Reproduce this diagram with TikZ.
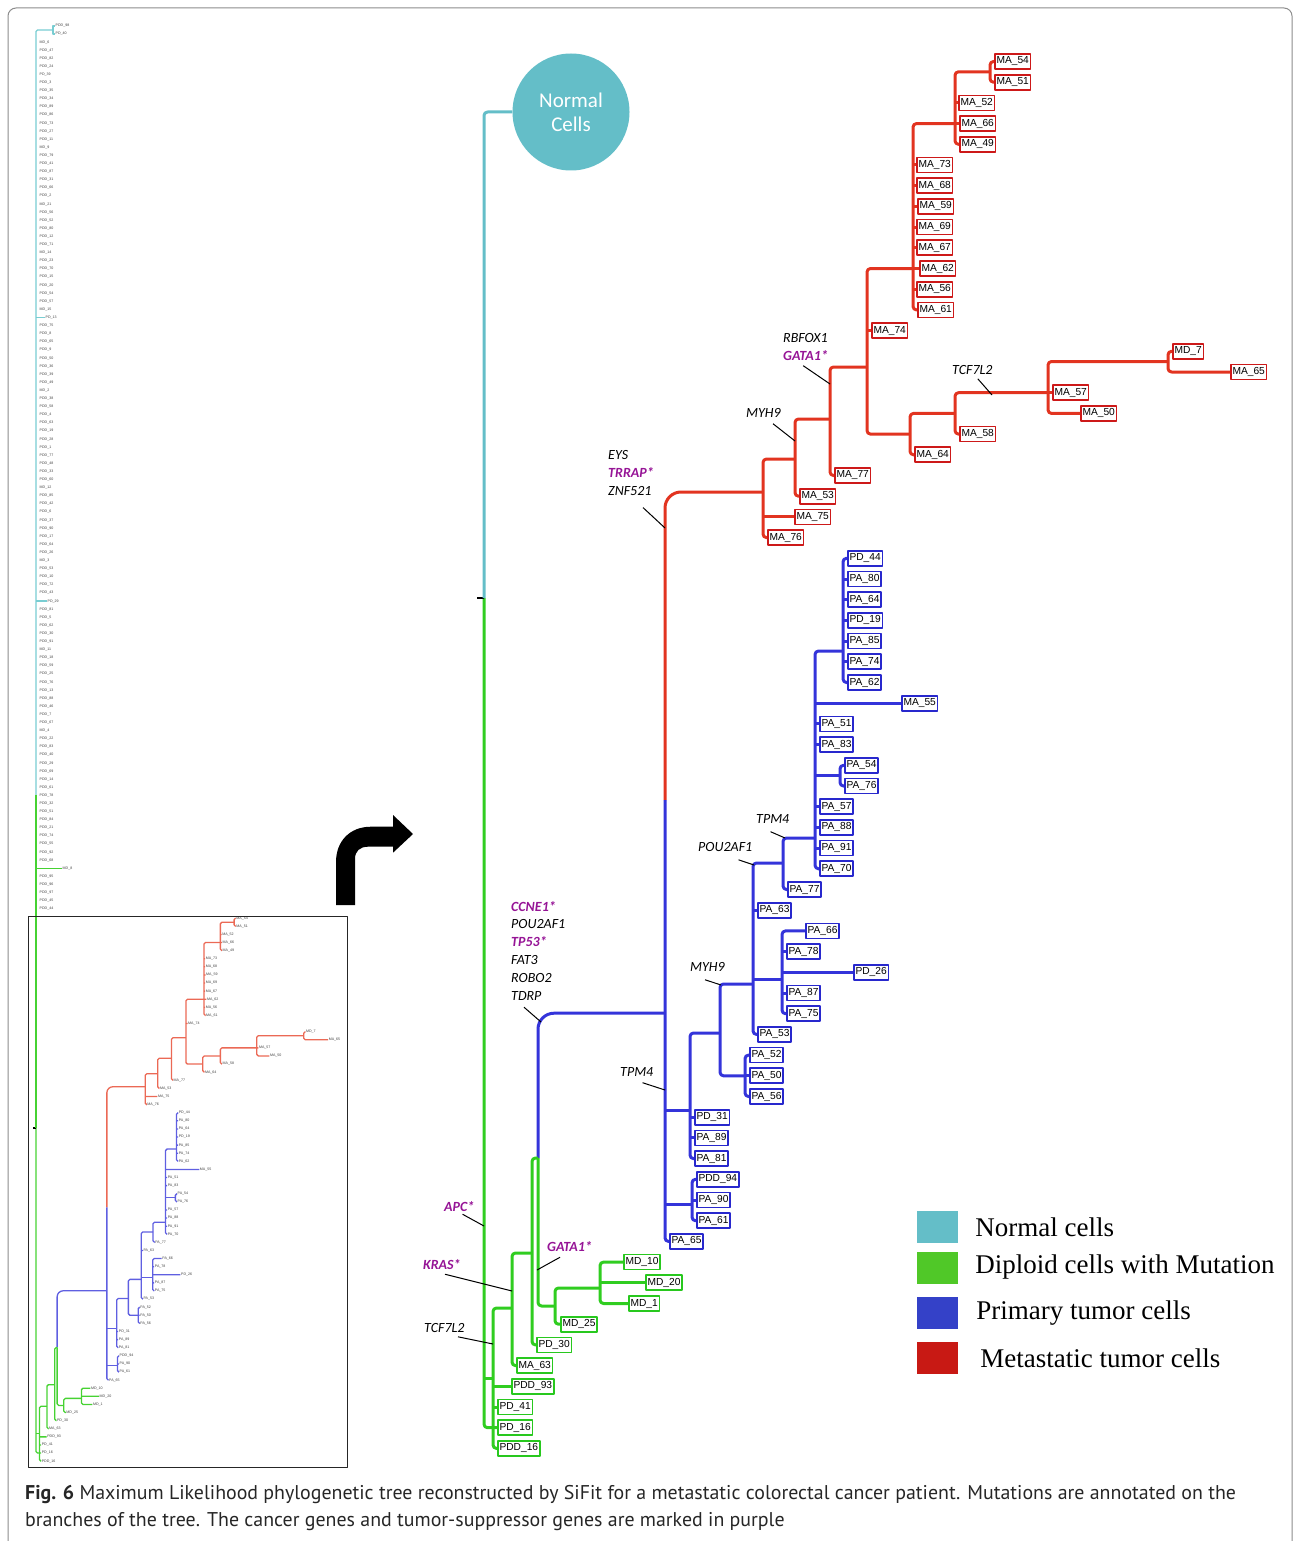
\documentclass[tikz,border=0pt]{standalone}
\usepackage{fontspec}
\setmainfont{Liberation Serif}
\newfontfamily\leaffont{Liberation Sans}
\newfontfamily\genefont{Carlito}
\newfontfamily\capfont{PT Sans}
\usetikzlibrary{positioning}

\definecolor{brred}{RGB}{226,52,32}
\definecolor{boxred}{RGB}{205,25,25}
\definecolor{brblue}{RGB}{52,52,218}
\definecolor{boxblue}{RGB}{40,40,205}
\definecolor{brgreen}{RGB}{48,205,32}
\definecolor{boxgreen}{RGB}{40,200,30}
\definecolor{brcyan}{RGB}{100,190,200}
\definecolor{thred}{RGB}{235,105,85}
\definecolor{thblue}{RGB}{95,95,225}
\definecolor{thgreen}{RGB}{70,210,50}
\definecolor{thcyan}{RGB}{120,205,210}
\definecolor{genepurple}{RGB}{150,20,150}
\definecolor{legcyan}{RGB}{100,190,200}
\definecolor{leggreen}{RGB}{80,200,40}
\definecolor{legblue}{RGB}{52,65,200}
\definecolor{legred}{RGB}{200,25,20}

\tikzset{
  br/.style={line width=3pt, rounded corners=3.5pt},
  bigbend/.style={rounded corners=16pt},
  rbr/.style={br, draw=brred},
  bbr/.style={br, draw=brblue},
  gbr/.style={br, draw=brgreen},
  cbr/.style={br, draw=brcyan},
  leaf/.style={anchor=west, fill=white, line width=1.7pt, inner xsep=1.7pt, inner ysep=0pt,
    minimum height=15pt, font=\leaffont\fontsize{10.2}{11}\selectfont},
  leafR/.style={leaf, draw=boxred},
  leafB/.style={leaf, draw=boxblue},
  leafG/.style={leaf, draw=boxgreen},
  roottick/.style={draw=black, line width=2.5pt},
  gene/.style={anchor=west, inner sep=0pt, align=left, font=\genefont\itshape\fontsize{14}{17.8}\selectfont},
  genetick/.style={draw=black, line width=1pt},
  legsq/.style={minimum width=41pt, minimum height=32pt, inner sep=0pt},
  legtxt/.style={inner sep=0pt, font=\fontsize{27}{30}\selectfont},
  thumblab/.style={anchor=west, inner sep=0.5pt, font=\leaffont\fontsize{3.6}{4}\selectfont, text=black!75},
}
\newcommand\purp[1]{{\bfseries\color{genepurple}#1}}

% the tree below the normal cells, in the pixel units of the large copy
\newcommand\drawtree{%
  %% ---- leaves: metastatic ----
  \node[leafR] (ma54) at (994,61.5) {MA\_54};
  \node[leafR] (ma51) at (994,82.2) {MA\_51};
  \node[leafR] (ma52) at (958,102.9) {MA\_52};
  \node[leafR] (ma66) at (959,123.6) {MA\_66};
  \node[leafR] (ma49) at (959,144.3) {MA\_49};
  \node[leafR] (ma73) at (916,165) {MA\_73};
  \node[leafR] (ma68) at (916,185.7) {MA\_68};
  \node[leafR] (ma59) at (917,206.4) {MA\_59};
  \node[leafR] (ma69) at (916,227.1) {MA\_69};
  \node[leafR] (ma67) at (916,247.8) {MA\_67};
  \node[leafR] (ma62) at (919,268.5) {MA\_62};
  \node[leafR] (ma56) at (916,289.2) {MA\_56};
  \node[leafR] (ma61) at (917,309.9) {MA\_61};
  \node[leafR] (ma74) at (871,330.6) {MA\_74};
  \node[leafR] (md7) at (1172,351.3) {MD\_7};
  \node[leafR] (ma65) at (1230,372) {MA\_65};
  \node[leafR] (ma57) at (1052,392.7) {MA\_57};
  \node[leafR] (ma50) at (1080,413.4) {MA\_50};
  \node[leafR] (ma58) at (959,434.1) {MA\_58};
  \node[leafR] (ma64) at (914,454.8) {MA\_64};
  \node[leafR] (ma77) at (834,475.5) {MA\_77};
  \node[leafR] (ma53) at (799,496.2) {MA\_53};
  \node[leafR] (ma75) at (794,516.9) {MA\_75};
  \node[leafR] (ma76) at (767,537.6) {MA\_76};
  %% ---- leaves: primary ----
  \node[leafB] (pd44) at (847,558.3) {PD\_44};
  \node[leafB] (pa80) at (847,579) {PA\_80};
  \node[leafB] (pa64) at (847,599.7) {PA\_64};
  \node[leafB] (pd19) at (847,620.4) {PD\_19};
  \node[leafB] (pa85) at (847,641.1) {PA\_85};
  \node[leafB] (pa74) at (847,661.8) {PA\_74};
  \node[leafB] (pa62) at (847,682.5) {PA\_62};
  \node[leafB] (ma55) at (901,703.2) {MA\_55};
  \node[leafB] (pa51) at (819,723.9) {PA\_51};
  \node[leafB] (pa83) at (819,744.6) {PA\_83};
  \node[leafB] (pa54) at (844,765.3) {PA\_54};
  \node[leafB] (pa76) at (844,786) {PA\_76};
  \node[leafB] (pa57) at (819,806.7) {PA\_57};
  \node[leafB] (pa88) at (819,827.4) {PA\_88};
  \node[leafB] (pa91) at (819,848.1) {PA\_91};
  \node[leafB] (pa70) at (819,868.8) {PA\_70};
  \node[leafB] (pa77) at (787,889.5) {PA\_77};
  \node[leafB] (pa63) at (757,910.2) {PA\_63};
  \node[leafB] (pa66) at (805,930.9) {PA\_66};
  \node[leafB] (pa78) at (786,951.6) {PA\_78};
  \node[leafB] (pd26) at (853,972.3) {PD\_26};
  \node[leafB] (pa87) at (786,993) {PA\_87};
  \node[leafB] (pa75) at (786,1013.7) {PA\_75};
  \node[leafB] (pa53) at (757,1034.4) {PA\_53};
  \node[leafB] (pa52) at (749,1055.1) {PA\_52};
  \node[leafB] (pa50) at (749,1075.8) {PA\_50};
  \node[leafB] (pa56) at (749,1096.5) {PA\_56};
  \node[leafB] (pd31) at (694,1117.2) {PD\_31};
  \node[leafB] (pa89) at (694,1137.9) {PA\_89};
  \node[leafB] (pa81) at (694,1158.6) {PA\_81};
  \node[leafB] (pdd94) at (696,1179.3) {PDD\_94};
  \node[leafB] (pa90) at (696,1200) {PA\_90};
  \node[leafB] (pa61) at (696,1220.7) {PA\_61};
  \node[leafB] (pa65) at (669,1241.4) {PA\_65};
  %% ---- leaves: diploid ----
  \node[leafG] (md10) at (623,1262.1) {MD\_10};
  \node[leafG] (md20) at (645,1282.8) {MD\_20};
  \node[leafG] (md1) at (628,1303.5) {MD\_1};
  \node[leafG] (md25) at (560,1324.2) {MD\_25};
  \node[leafG] (pd30) at (536,1344.9) {PD\_30};
  \node[leafG] (ma63) at (516,1365.6) {MA\_63};
  \node[leafG] (pdd93) at (511,1386.3) {PDD\_93};
  \node[leafG] (pd41) at (497,1407) {PD\_41};
  \node[leafG] (pd16) at (497,1427.7) {PD\_16};
  \node[leafG] (pdd16) at (497,1448.4) {PDD\_16};
  %% ---- inner nodes ----
  \coordinate (rI) at (1168,361.5);
  \coordinate (rH) at (1048,392.7);
  \coordinate (rG) at (955,413.4);
  \coordinate (rF) at (910,434.1);
  \coordinate (rE3) at (990,71.8);
  \coordinate (rE2) at (955,123.6);
  \coordinate (rE) at (913,268.5);
  \coordinate (rD) at (867,367);
  \coordinate (rC) at (830,419);
  \coordinate (rB) at (795,459);
  \coordinate (rA) at (763,492);
  \coordinate (rSplit) at (665,800);
  \coordinate (bS) at (843,651);
  \coordinate (bPQ) at (840,775);
  \coordinate (bU) at (815,838);
  \coordinate (bW) at (783,863);
  \coordinate (bV) at (782,979);
  \coordinate (bX) at (753,984);
  \coordinate (bZ) at (745,1075.8);
  \coordinate (bY) at (720,1033);
  \coordinate (bP) at (690,1110);
  \coordinate (bQ) at (692,1204);
  \coordinate (bB) at (665,1013.2);
  \coordinate (gN) at (600,1288);
  \coordinate (gM) at (555,1306);
  \coordinate (gG2) at (538,1158);
  \coordinate (gG) at (532,1253);
  \coordinate (gK) at (512,1308);
  \coordinate (gT) at (493,1378);
  \coordinate (root) at (484,598);
  %% ---- metastatic branches ----
  \draw[rbr] (md7) -| (rI) |- (ma65);
  \draw[rbr] (rI) -| (rH) |- (ma50);
  \draw[rbr] (rH) -- (ma57);
  \draw[rbr] (rH) -| (rG) |- (ma58);
  \draw[rbr] (rG) -| (rF) |- (ma64);
  \draw[rbr] (ma54) -| (rE3) |- (ma51);
  \draw[rbr] (rE3) -| (rE2) |- (ma49);
  \draw[rbr] (rE2 |- ma52) -- (ma52);
  \draw[rbr] (rE2) -- (ma66);
  \draw[rbr] (rE2) -| (rE) |- (ma61);
  \draw[rbr] (rE |- ma73) -- (ma73);
  \draw[rbr] (rE |- ma68) -- (ma68);
  \draw[rbr] (rE |- ma59) -- (ma59);
  \draw[rbr] (rE |- ma69) -- (ma69);
  \draw[rbr] (rE |- ma67) -- (ma67);
  \draw[rbr] (rE) -- (ma62);
  \draw[rbr] (rE |- ma56) -- (ma56);
  \draw[rbr] (rE) -| (rD) |- (rF);
  \draw[rbr] (rD |- ma74) -- (ma74);
  \draw[rbr] (rD) -| (rC) |- (ma77);
  \draw[rbr] (rC) -| (rB) |- (ma53);
  \draw[rbr] (rB) -| (rA) |- (ma76);
  \draw[rbr] (rA |- ma75) -- (ma75);
  \draw[rbr, bigbend] (rA) -| (rSplit);
  %% ---- primary branches ----
  \draw[bbr] (pd44) -| (bS) |- (pa62);
  \draw[bbr] (bS |- pa80) -- (pa80);
  \draw[bbr] (bS |- pa64) -- (pa64);
  \draw[bbr] (bS |- pd19) -- (pd19);
  \draw[bbr] (bS |- pa85) -- (pa85);
  \draw[bbr] (bS |- pa74) -- (pa74);
  \draw[bbr] (pa54) -| (bPQ) |- (pa76);
  \draw[bbr] (bS) -| (bU) |- (pa70);
  \draw[bbr] (bU |- ma55) -- (ma55);
  \draw[bbr] (bU |- pa51) -- (pa51);
  \draw[bbr] (bU |- pa83) -- (pa83);
  \draw[bbr] (bU |- bPQ) -- (bPQ);
  \draw[bbr] (bU |- pa57) -- (pa57);
  \draw[bbr] (bU |- pa88) -- (pa88);
  \draw[bbr] (bU |- pa91) -- (pa91);
  \draw[bbr] (bU) -| (bW) |- (pa77);
  \draw[bbr] (pa66) -| (bV) |- (pa75);
  \draw[bbr] (bV |- pa78) -- (pa78);
  \draw[bbr] (bV |- pd26) -- (pd26);
  \draw[bbr] (bV |- pa87) -- (pa87);
  \draw[bbr] (bW) -| (bX) |- (pa53);
  \draw[bbr] (bX |- pa63) -- (pa63);
  \draw[bbr] (bX |- bV) -- (bV);
  \draw[bbr] (pa52) -| (bZ) |- (pa56);
  \draw[bbr] (bZ) -- (pa50);
  \draw[bbr] (bX) -| (bY) |- (bZ);
  \draw[bbr] (bY) -| (bP) |- (pa81);
  \draw[bbr] (bP |- pd31) -- (pd31);
  \draw[bbr] (bP |- pa89) -- (pa89);
  \draw[bbr] (pdd94) -| (bQ) |- (pa61);
  \draw[bbr] (bQ |- pa90) -- (pa90);
  \draw[bbr] (rSplit) |- (pa65);
  \draw[bbr] (bB |- bP) -- (bP);
  \draw[bbr] (bB |- bQ) -- (bQ);
  \draw[bbr, bigbend] (bB) -| (gG2);
  %% ---- diploid branches ----
  \draw[gbr] (md10) -| (gN) |- (md1);
  \draw[gbr] (gN |- md20) -- (md20);
  \draw[gbr] (gN) -| (gM) |- (md25);
  \draw[gbr] (gG2) |- (gM);
  \draw[gbr] (gG2) -| (gG) |- (pd30);
  \draw[gbr] (gG) -| (gK) |- (ma63);
  \draw[gbr] (gK) -| (gT) |- (pdd16);
  \draw[gbr] (gT |- pdd93) -- (pdd93);
  \draw[gbr] (gT |- pd41) -- (pd41);
  \draw[gbr] (root) |- (pd16);
  \draw[gbr] (root |- gT) -- (gT);
  \draw[roottick] (root) -- ++(-7,0);
}

\begin{document}
\begin{tikzpicture}[x=1pt, y=-1pt, line join=round]
  \useasboundingbox (0,0) rectangle (1294,1541);

  %% ════ frame ════
  \draw[black!45, line width=1pt, rounded corners=8pt] (8,1560) -- (8,8) -- (1292,8) -- (1292,1560);

  %% ════ small whole tree (left) ════
  \foreach \lab [count=\i from 0] in {
      {}, {}, MD\_6, PDD\_47, PDD\_82, PDD\_24, PD\_39, PDD\_3, PDD\_35, PDD\_34,
      PDD\_89, PDD\_86, PDD\_73, PDD\_27, PDD\_11, MD\_9, PDD\_79, PDD\_41, PDD\_87, PDD\_31,
      PDD\_66, PDD\_2, MD\_21, PDD\_56, PDD\_52, PDD\_80, PDD\_12, PDD\_71, MD\_14, PDD\_23,
      PDD\_70, PDD\_15, PDD\_20, PDD\_54, PDD\_57, MD\_15, {}, PDD\_75, PDD\_8, PDD\_65,
      PDD\_9, PDD\_50, PDD\_36, PDD\_39, PDD\_49, MD\_2, PDD\_38, PDD\_58, PDD\_4, PDD\_63,
      PDD\_19, PDD\_28, PDD\_1, PDD\_77, PDD\_48, PDD\_33, PDD\_60, MD\_12, PDD\_85, PDD\_42,
      PDD\_6, PDD\_37, PDD\_90, PDD\_17, PDD\_64, PDD\_26, MD\_3, PDD\_53, PDD\_10, PDD\_72,
      PDD\_43, {}, PDD\_81, PDD\_5, PDD\_62, PDD\_30, PDD\_91, MD\_11, PDD\_18, PDD\_59,
      PDD\_25, PDD\_76, PDD\_13, PDD\_88, PDD\_46, PDD\_7, PDD\_67, MD\_4, PDD\_22, PDD\_83,
      PDD\_40, PDD\_29, PDD\_69, PDD\_14, PDD\_61, PDD\_78, PDD\_32, PDD\_51, PDD\_84, PDD\_21,
      PDD\_74, PDD\_55, PDD\_92, PDD\_68, {}, PDD\_95, PDD\_96, PDD\_97, PDD\_45, PDD\_44}
    \node[thumblab] (c\i) at (39,26+8.1*\i) {\lab};
  \node[thumblab] (tPDD98) at (55,26) {PDD\_98};
  \node[thumblab] (tPD40) at (55,34.1) {PD\_40};
  \node[thumblab] (tPD13) at (45,317.6) {PD\_13};
  \node[thumblab] (tPD29) at (47,601.1) {PD\_29};
  \node[thumblab] (tMD8) at (62,868.4) {MD\_8};
  \coordinate (tPair) at (53,30);
  \coordinate (tSwitch) at (36,795);
  \draw[line width=1.3pt, draw=thcyan] (tPDD98) -| (tPair) |- (tPD40);
  \draw[line width=1.3pt, draw=thcyan, rounded corners=1.5pt] (tPair) -| (tSwitch);
  \draw[line width=1.3pt, draw=thcyan] (tSwitch |- tPD13) -- (tPD13);
  \draw[line width=1.3pt, draw=thcyan] (tSwitch |- tPD29) -- (tPD29);
  \draw[line width=1.3pt, draw=thgreen] (tSwitch |- tMD8) -- (tMD8);

  \begin{scope}[name prefix=th-, shift={(36,918)}, scale=0.3915, shift={(-484,-61)},
      br/.style={line width=1.3pt, rounded corners=1.5pt}, bigbend/.style={rounded corners=6pt},
      rbr/.style={br, draw=thred}, bbr/.style={br, draw=thblue}, gbr/.style={br, draw=thgreen},
      leaf/.style={thumblab}, leafR/.style={leaf}, leafB/.style={leaf}, leafG/.style={leaf},
      roottick/.style={draw=black, line width=1.6pt}]
    \drawtree
  \end{scope}
  \draw[line width=1.3pt, draw=thgreen] (tSwitch) -- (th-root);

  % box round the part that is shown large
  \draw[black!85, line width=0.9pt] (28,916) rectangle (347,1467);

  % turning arrow
  \fill[black] (336,905) -- (336,862) .. controls (336,841) and (350,826.7) .. (371,826.7)
    -- (393,826.7) -- (393,815) -- (413,834) -- (393,852.7) -- (393,846.7) -- (368,846.7)
    .. controls (360,846.7) and (355,851) .. (355,859) -- (355,905) -- cycle;

  %% ════ large tree ════
  \node[circle, fill=brcyan, minimum size=117pt, inner sep=0pt, text=white, align=center,
    font=\genefont\fontsize{21}{26}\selectfont] (normal) at (571,112) {\raisebox{-2pt}{Normal}\\Cells};
  \drawtree
  \draw[cbr] (normal) -| (root);

  %% ════ mutations on the branches ════
  \node[gene] (lEYS) at (608,473) {EYS\\\purp{TRRAP*}\\ZNF521};
  \node[gene] (lGATAr) at (783,347) {RBFOX1\\\purp{GATA1*}};
  \node[gene] (lMYHr) at (746,413) {MYH9};
  \node[gene] (lTCFr) at (952,370) {TCF7L2};
  \node[gene] (lTPMa) at (756,819) {TPM4};
  \node[gene] (lPOU) at (698,847) {POU2AF1};
  \node[gene] (lMYHb) at (690,967) {MYH9};
  \node[gene] (lTPMb) at (620,1072) {TPM4};
  \node[gene] (lCCNE) at (511,950.5) {\purp{CCNE1*}\\POU2AF1\\\purp{TP53*}\\FAT3\\ROBO2\\TDRP};
  \node[gene] (lAPC) at (444,1207) {\purp{APC*}};
  \node[gene] (lGATAg) at (547,1247) {\purp{GATA1*}};
  \node[gene] (lKRAS) at (423,1265) {\purp{KRAS*}};
  \node[gene] (lTCFg) at (424,1328) {TCF7L2};
  \coordinate (kEYS) at (665,528);
  \coordinate (kGATAr) at (830,384);
  \coordinate (kMYHr) at (795,441);
  \coordinate (kTCFr) at (992,395);
  \coordinate (kTPMa) at (785,838);
  \coordinate (kPOU) at (754,865);
  \coordinate (kMYHb) at (721,985);
  \coordinate (kTPMb) at (665,1090);
  \coordinate (kCCNE) at (541,1022);
  \coordinate (kAPC) at (484,1226);
  \coordinate (kGATAg) at (537,1270);
  \coordinate (kKRAS) at (512,1291);
  \coordinate (kTCFg) at (493,1344);
  \draw[genetick] (lEYS.south east) ++(-11,12) -- (kEYS);
  \draw[genetick] (lGATAr.south east) ++(-25,5) -- (kGATAr);
  \draw[genetick] (lMYHr.south east) ++(-8,6) -- (kMYHr);
  \draw[genetick] (lTCFr.south east) ++(-15,4) -- (kTCFr);
  \draw[genetick] (lTPMa.south east) ++(-19,8) -- (kTPMa);
  \draw[genetick] (lPOU.south east) ++(-14,8) -- (kPOU);
  \draw[genetick] (lMYHb.south east) ++(-20,8) -- (kMYHb);
  \draw[genetick] (lTPMb.south east) ++(-11,6) -- (kTPMb);
  \draw[genetick] (lCCNE.south west) ++(13,7) -- (kCCNE);
  \draw[genetick] (lAPC.south east) ++(-12,2) -- (kAPC);
  \draw[genetick] (lGATAg.south west) ++(13,5) -- (kGATAg);
  \draw[genetick] (lKRAS.south west) ++(22,4) -- (kKRAS);
  \draw[genetick] (lTCFg.south west) ++(34,4) -- (kTCFg);

  %% ════ legend ════
  \node[legsq, fill=legcyan] (sqNormal) at (937.5,1227) {};
  \node[legsq, fill=leggreen] (sqDiploid) at (937.5,1268) {};
  \node[legsq, fill=legblue] (sqPrimary) at (937.5,1313) {};
  \node[legsq, fill=legred] (sqMeta) at (937.5,1358) {};
  \node[legtxt, right=17pt of sqNormal] (txNormal) {Normal cells};
  \node[legtxt, right=17pt of sqDiploid, yshift=1pt] (txDiploid) {Diploid cells with Mutation};
  \node[legtxt, right=18pt of sqPrimary] (txPrimary) {Primary tumor cells};
  \node[legtxt, right=22pt of sqMeta] (txMeta) {Metastatic tumor cells};

  %% ════ caption ════
  \node[anchor=north west, inner sep=0pt, align=left, text=black!85,
    font=\capfont\fontsize{19.9}{27}\selectfont] (caption) at (25,1485)
    {\textbf{Fig. 6} Maximum Likelihood phylogenetic tree reconstructed by SiFit for a metastatic colorectal cancer patient. Mutations are annotated on the\\
     branches of the tree. The cancer genes and tumor-suppressor genes are marked in purple};
\end{tikzpicture}
\end{document}
